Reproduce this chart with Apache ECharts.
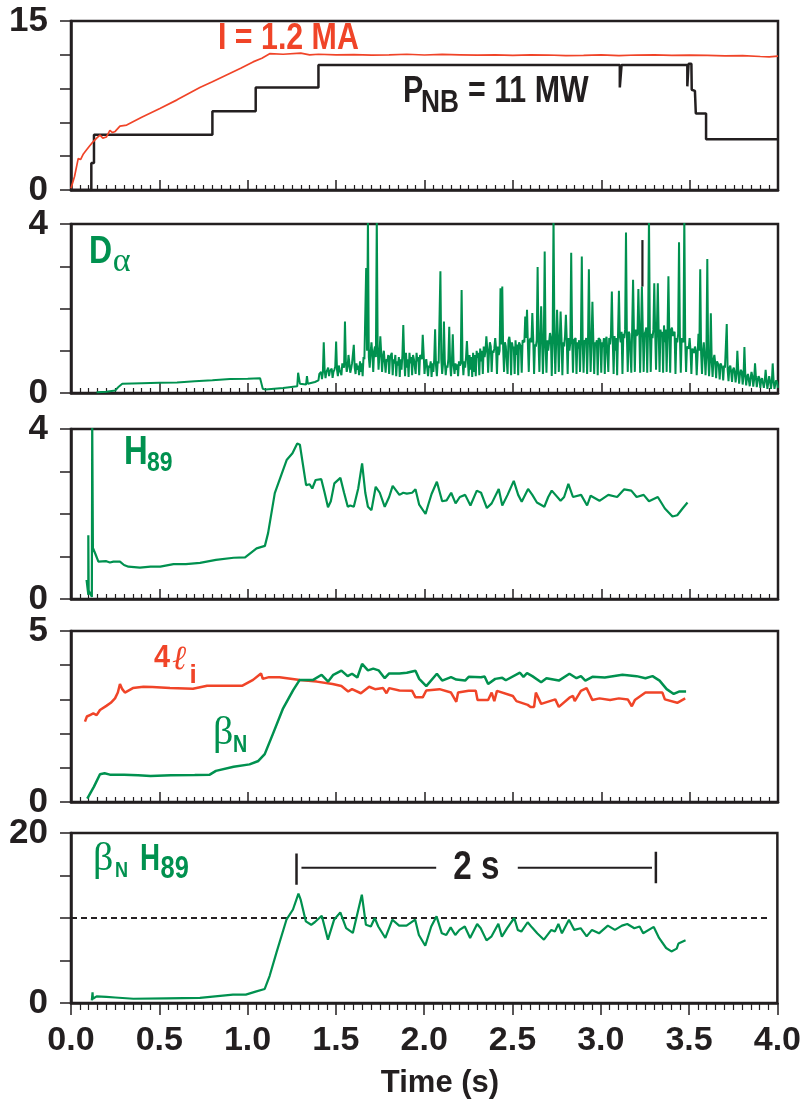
<!DOCTYPE html>
<html><head><meta charset="utf-8">
<script src="https://cdn.jsdelivr.net/npm/echarts/dist/echarts.min.js"></script>
<style>html,body{margin:0;padding:0;background:#fff}#c{width:804px;height:1103px}</style>
</head><body><div id="c"></div>
<script>
// ---------- tick labels ----------
const xTickLabels = ['0.0','0.5','1.0','1.5','2.0','2.5','3.0','3.5','4.0'];
const yLabelsP1 = ['0','15'];
const yLabelsP2 = ['0','4'];
const yLabelsP3 = ['0','4'];
const yLabelsP4 = ['0','5'];
const yLabelsP5 = ['0','20'];

// ---------- panel 1: plasma current (red) and NB power (black step) ----------
const plasmaCurrent = [[0,0.15],[0.02,1.2],[0.041,2.8],[0.054,2.7],[0.07,3.2],[0.085,3.5],[0.105,3.9],[0.126,4.3],[0.145,4.6],[0.164,4.87],[0.18,4.6],[0.2,4.7],[0.22,5.3],[0.235,5.1],[0.25,5.2],[0.277,5.67],[0.315,5.76],[0.40,6.45],[0.503,7.23],[0.6,8.0],[0.729,9.1],[0.8,9.6],[0.88,10.2],[0.96,10.8],[1.03,11.37],[1.08,11.7],[1.124,12.1],[1.2,12.05],[1.3,12.15],[1.35,12.0],[1.4,12.05],[1.5,12.0],[1.6,12.02],[1.7,11.98],[1.8,12.0],[1.9,12.05],[2.0,11.98],[2.1,12.03],[2.2,12.0],[2.3,11.97],[2.4,12.0],[2.5,11.95],[2.6,12.0],[2.7,11.98],[2.8,11.93],[2.9,11.95],[3.0,12.0],[3.1,11.92],[3.2,11.98],[3.3,12.0],[3.4,11.95],[3.5,11.98],[3.6,11.95],[3.7,11.9],[3.8,11.92],[3.9,11.85],[3.95,11.82],[4.0,11.88]];
const nbPower = [[0,0],[0.115,0],[0.115,2.4],[0.13,2.4],[0.13,4.9],[0.80,4.9],[0.80,7.0],[1.045,7.0],[1.045,9.1],[1.40,9.1],[1.40,11.1],[3.105,11.1],[3.105,9.1],[3.115,9.1],[3.115,11.1],[3.487,11.1],[3.487,9.2],[3.494,9.2],[3.494,11.2],[3.51,11.2],[3.512,8.9],[3.53,8.8],[3.535,6.8],[3.593,6.8],[3.593,4.5],[4.0,4.5]];

// ---------- panel 2: D-alpha ----------
const dAlphaEarly = [[0.145,0.02],[0.2,0.03],[0.25,0.06],[0.27,0.15],[0.29,0.22],[0.4,0.23],[0.5,0.24],[0.6,0.25],[0.7,0.28],[0.8,0.30],[0.9,0.33],[1.0,0.34],[1.07,0.35],[1.075,0.38],[1.085,0.10],[1.10,0.08],[1.2,0.12],[1.28,0.16],[1.285,0.48],[1.295,0.22],[1.33,0.20],[1.335,0.40],[1.34,0.22],[1.38,0.26],[1.39,0.30]];
const dAlphaStart = 1.40, dAlphaStep = 0.01;   // sampled trace 1.40 s .. 4.00 s
const dAlphaSamples = [
0.30,0.42,0.33,1.20,0.35,0.55,0.40,0.50,0.36,0.55,
1.22,0.40,0.55,0.42,0.65,1.69,0.50,0.90,0.48,0.70,
1.14,0.45,0.55,0.42,0.50,0.40,0.80,2.96,4.20,0.60,
1.20,0.50,1.10,4.20,0.55,1.34,0.50,1.00,0.48,0.75,
0.45,0.87,0.42,0.70,0.40,0.65,0.38,0.55,1.61,0.40,
0.60,0.38,0.70,0.42,0.80,0.45,0.75,0.42,0.90,1.38,
0.45,0.80,0.40,0.60,0.38,0.50,1.51,0.40,0.70,2.88,
0.45,1.69,0.42,0.60,1.57,0.40,1.39,0.45,0.55,0.40,
0.65,2.44,0.42,0.60,1.23,0.40,0.55,0.38,0.50,0.40,
0.83,0.42,0.75,0.45,0.85,1.34,0.48,1.20,0.50,0.95,
1.30,0.45,0.90,2.48,2.52,0.50,1.10,0.45,1.33,0.42,
1.05,0.45,0.90,0.42,1.20,0.48,1.25,1.81,1.97,0.50,
1.30,1.89,0.45,1.10,2.98,0.50,2.05,0.45,3.35,0.48,
1.00,1.42,0.40,4.20,0.45,1.97,0.50,1.93,0.42,1.10,
1.85,0.45,1.00,3.32,0.48,1.25,0.45,1.05,0.50,3.23,
0.48,1.20,0.45,2.93,0.50,2.16,0.45,1.15,0.42,1.26,
0.48,1.10,0.45,1.33,0.50,1.15,2.40,0.45,1.00,0.42,
2.42,1.20,0.45,1.30,3.80,0.50,1.40,0.48,2.68,0.50,
1.35,2.46,0.48,2.52,0.50,1.45,0.48,4.20,0.50,1.30,
2.60,0.55,2.60,0.50,1.35,0.48,1.20,0.50,2.76,0.48,
1.55,1.40,0.45,1.20,3.57,0.48,1.30,4.20,0.50,1.10,
1.30,0.45,1.00,1.10,0.42,1.40,2.93,0.45,1.20,0.42,
3.17,0.40,1.89,0.38,0.90,0.35,0.75,0.32,0.70,0.30,
0.60,1.63,0.28,0.65,0.26,0.60,0.25,1.00,0.22,0.55,
0.20,1.09,0.18,0.45,0.16,0.50,0.15,0.70,0.14,0.40,
0.12,0.35,0.12,0.55,0.10,0.40,0.10,0.70,0.10,0.30,
0.12];
// in-between readings of the dense ELM band (1.405 s .. 3.995 s)
const dAlphaMid = [
0.45,0.50,0.48,0.55,0.50,0.60,0.52,0.58,0.50,0.62,
0.55,0.65,0.58,0.70,0.60,0.75,0.62,0.70,0.58,0.68,
0.60,0.70,0.65,0.75,0.70,0.85,0.80,1.00,0.85,0.95,
0.90,1.00,0.85,1.10,0.90,0.95,0.85,1.00,0.80,0.90,
0.85,0.95,0.80,0.90,0.75,0.85,0.80,0.90,0.85,0.95,
0.80,0.95,0.85,0.90,0.80,0.95,0.85,0.90,0.80,0.95,
0.70,0.80,0.65,0.75,0.70,0.80,0.65,0.75,0.70,0.80,
0.70,0.75,0.65,0.80,0.70,0.75,0.65,0.70,0.68,0.75,
0.70,0.80,0.75,0.85,0.80,0.90,0.85,0.95,0.90,1.00,
0.95,1.05,1.00,1.10,1.00,1.05,0.95,1.10,1.00,1.05,
1.05,1.10,1.00,1.15,1.05,1.20,1.10,1.25,1.15,1.20,
1.10,1.25,1.15,1.20,1.10,1.25,1.20,1.30,1.15,1.25,
1.20,1.30,1.15,1.25,1.20,1.30,1.25,1.20,1.15,1.25,
1.20,1.30,1.25,1.35,1.20,1.30,1.25,1.30,1.20,1.35,
1.25,1.30,1.20,1.35,1.25,1.30,1.20,1.25,1.30,1.20,
1.25,1.30,1.20,1.35,1.25,1.30,1.20,1.25,1.30,1.25,
1.20,1.30,1.25,1.35,1.30,1.40,1.25,1.35,1.30,1.40,
1.35,1.45,1.40,1.50,1.35,1.45,1.40,1.55,1.45,1.50,
1.40,1.55,1.45,1.50,1.40,1.55,1.50,1.45,1.40,1.50,
1.45,1.55,1.40,1.50,1.45,1.60,1.50,1.45,1.40,1.50,
1.35,1.45,1.30,1.40,1.35,1.30,1.20,1.25,1.10,1.05,
1.00,1.05,0.95,1.00,0.90,1.00,0.95,1.00,0.90,0.95,
0.85,0.80,0.75,0.80,0.70,0.75,0.65,0.70,0.60,0.65,
0.60,0.55,0.60,0.50,0.55,0.50,0.45,0.55,0.45,0.50,
0.40,0.45,0.38,0.42,0.35,0.40,0.32,0.38,0.30,0.35,
0.30,0.32,0.28,0.30,0.25,0.28,0.25,0.30,0.22,0.25];
const dAlphaBlackMark = [[3.233,2.52],[3.233,3.62]];

// ---------- panel 3: H89 ----------
const h89 = [[0.088,0.45],[0.098,0.1],[0.098,1.5],[0.1,0.2],[0.118,0.05],[0.12,4.2],[0.124,1.2],[0.137,1.07],[0.155,0.88],[0.2,0.89],[0.22,0.86],[0.24,0.88],[0.277,0.88],[0.3,0.8],[0.325,0.76],[0.39,0.74],[0.45,0.76],[0.505,0.76],[0.58,0.82],[0.65,0.82],[0.73,0.85],[0.82,0.92],[0.92,0.97],[0.985,0.98],[1.05,1.19],[1.097,1.25],[1.115,1.55],[1.153,2.49],[1.19,2.92],[1.22,3.27],[1.253,3.43],[1.28,3.66],[1.295,3.63],[1.33,2.68],[1.35,2.7],[1.365,2.6],[1.384,2.8],[1.416,2.82],[1.435,2.5],[1.454,2.16],[1.47,2.3],[1.49,2.72],[1.524,2.85],[1.545,2.5],[1.566,2.17],[1.58,2.2],[1.6,2.17],[1.625,2.6],[1.647,3.19],[1.665,2.5],[1.68,2.17],[1.7,2.09],[1.724,2.64],[1.747,2.5],[1.775,2.17],[1.8,2.4],[1.82,2.66],[1.858,2.45],[1.88,2.5],[1.9,2.48],[1.93,2.5],[1.949,2.58],[1.97,2.22],[2.006,2.0],[2.02,2.2],[2.04,2.47],[2.07,2.76],[2.1,2.3],[2.125,2.32],[2.151,2.5],[2.176,2.25],[2.2,2.4],[2.23,2.45],[2.26,2.2],[2.296,2.55],[2.32,2.5],[2.353,2.14],[2.38,2.25],[2.42,2.59],[2.44,2.2],[2.47,2.45],[2.505,2.78],[2.53,2.45],[2.55,2.29],[2.586,2.59],[2.61,2.45],[2.636,2.27],[2.678,2.17],[2.7,2.4],[2.72,2.55],[2.77,2.31],[2.79,2.4],[2.814,2.71],[2.84,2.4],[2.886,2.45],[2.92,2.2],[2.94,2.43],[2.99,2.31],[3.04,2.45],[3.09,2.4],[3.13,2.58],[3.17,2.55],[3.2,2.4],[3.24,2.45],[3.27,2.3],[3.32,2.4],[3.36,2.13],[3.403,1.94],[3.43,1.97],[3.46,2.13],[3.488,2.27]];

// ---------- panel 4: 4*li (red) and betaN (green) ----------
const fourLi = [[0.079,2.35],[0.09,2.5],[0.11,2.55],[0.126,2.59],[0.145,2.54],[0.164,2.69],[0.2,2.81],[0.225,2.9],[0.249,3.03],[0.265,3.2],[0.277,3.45],[0.29,3.3],[0.305,3.2],[0.35,3.33],[0.41,3.37],[0.46,3.36],[0.56,3.33],[0.69,3.31],[0.77,3.4],[0.97,3.4],[1.03,3.57],[1.075,3.76],[1.085,3.6],[1.12,3.65],[1.18,3.65],[1.295,3.57],[1.39,3.52],[1.48,3.45],[1.53,3.39],[1.568,3.23],[1.59,3.3],[1.64,3.18],[1.687,3.37],[1.72,3.3],[1.766,3.33],[1.785,3.18],[1.8,3.33],[1.858,3.26],[1.93,3.25],[1.949,3.06],[1.99,3.06],[2.01,3.26],[2.085,3.3],[2.15,3.2],[2.18,2.93],[2.19,3.2],[2.25,3.25],[2.29,3.25],[2.30,2.98],[2.36,2.98],[2.38,3.2],[2.395,2.95],[2.41,3.25],[2.50,3.1],[2.52,2.95],[2.584,2.84],[2.60,2.78],[2.62,2.78],[2.63,3.2],[2.66,2.87],[2.74,3.0],[2.76,2.78],[2.82,3.05],[2.84,3.1],[2.85,2.95],[2.885,3.25],[2.917,3.33],[2.95,2.98],[2.99,3.03],[3.05,2.98],[3.1,3.03],[3.15,3.0],[3.173,2.8],[3.19,2.98],[3.25,3.2],[3.346,3.2],[3.36,3.0],[3.43,2.9],[3.475,3.03]];
const betaN = [[0.092,0.1],[0.13,0.45],[0.164,0.81],[0.19,0.84],[0.22,0.8],[0.3,0.8],[0.38,0.78],[0.45,0.76],[0.565,0.78],[0.7,0.79],[0.785,0.8],[0.82,0.91],[0.92,1.03],[1.01,1.1],[1.06,1.2],[1.096,1.4],[1.143,2.0],[1.2,2.74],[1.257,3.27],[1.294,3.57],[1.37,3.57],[1.418,3.72],[1.455,3.52],[1.484,3.72],[1.53,3.84],[1.565,3.68],[1.59,3.75],[1.62,3.64],[1.647,4.04],[1.68,3.85],[1.71,3.9],[1.74,3.85],[1.775,3.62],[1.8,3.76],[1.858,3.76],[1.90,3.78],[1.949,3.84],[1.97,3.6],[2.01,3.39],[2.07,3.75],[2.1,3.55],[2.15,3.65],[2.18,3.58],[2.23,3.55],[2.25,3.66],[2.32,3.65],[2.34,3.67],[2.36,3.45],[2.4,3.6],[2.44,3.63],[2.46,3.56],[2.54,3.78],[2.56,3.66],[2.58,3.77],[2.61,3.68],[2.66,3.5],[2.69,3.62],[2.76,3.55],[2.82,3.75],[2.86,3.62],[2.885,3.68],[2.91,3.55],[2.95,3.66],[3.02,3.64],[3.12,3.72],[3.2,3.68],[3.25,3.62],[3.29,3.68],[3.33,3.55],[3.37,3.3],[3.41,3.16],[3.44,3.23],[3.48,3.23]];

// ---------- panel 5: betaN*H89 ----------
const betaNH89 = [[0.118,0.3],[0.122,1.25],[0.124,0.5],[0.145,0.78],[0.2,0.72],[0.25,0.65],[0.353,0.5],[0.54,0.55],[0.73,0.6],[0.917,0.98],[0.99,0.98],[1.05,1.37],[1.097,1.65],[1.125,3.2],[1.163,5.9],[1.22,9.8],[1.257,11.0],[1.288,12.86],[1.30,12.2],[1.33,9.6],[1.36,9.2],[1.38,9.5],[1.42,10.27],[1.455,7.45],[1.49,9.8],[1.525,10.66],[1.558,8.8],[1.596,8.24],[1.647,12.74],[1.67,9.2],[1.698,9.0],[1.72,10.0],[1.74,9.0],[1.78,7.65],[1.82,9.8],[1.858,9.1],[1.9,9.1],[1.949,9.8],[1.97,8.0],[2.006,6.74],[2.04,9.0],[2.07,10.2],[2.1,8.2],[2.125,8.0],[2.15,8.9],[2.176,8.0],[2.2,8.6],[2.23,9.0],[2.26,7.65],[2.3,9.3],[2.32,8.8],[2.353,7.37],[2.38,7.8],[2.42,9.33],[2.44,7.8],[2.47,8.8],[2.51,10.0],[2.53,8.6],[2.55,8.4],[2.586,9.5],[2.61,8.9],[2.64,8.2],[2.678,7.45],[2.72,8.6],[2.74,8.4],[2.76,9.3],[2.78,8.2],[2.82,9.8],[2.85,8.6],[2.886,8.8],[2.92,7.84],[2.95,8.6],[2.99,8.2],[3.04,9.1],[3.08,8.6],[3.12,9.1],[3.15,9.3],[3.19,8.8],[3.22,9.0],[3.24,8.2],[3.3,8.95],[3.33,7.65],[3.37,6.47],[3.4,6.07],[3.43,6.4],[3.44,7.0],[3.48,7.37]];
const referenceLevel = [[0,10],[3.96,10]];
const bracketLeftBar = [[1.277,17.6],[1.277,13.9]];
const bracketLeftLine = [[1.305,15.9],[2.068,15.9]];
const bracketRightLine = [[2.53,15.9],[3.29,15.9]];
const bracketRightBar = [[3.312,17.8],[3.312,14.1]];

// ---------- build ----------
const RED = '#f04428', GREEN = '#00914f', BLACK = '#231f20';
const SANS = "'Liberation Sans',Arial,sans-serif";
const SERIF = "'Liberation Serif','DejaVu Serif',serif";

const dAlpha = dAlphaEarly.slice();
dAlphaSamples.forEach((v, i) => {
  const t = dAlphaStart + i * dAlphaStep;
  dAlpha.push([+t.toFixed(3), v]);
  if (i < dAlphaMid.length) dAlpha.push([+(t + dAlphaStep / 2).toFixed(3), dAlphaMid[i]]);
});

const gridTops = [21, 224, 429, 631, 833];
const gridHeights = [169, 169, 170, 171, 170];
const yCfg = [[0,15,3,yLabelsP1],[0,4,1,yLabelsP2],[0,4,1,yLabelsP3],[0,5,1,yLabelsP4],[0,20,5,yLabelsP5]];

const grid = gridTops.map((t, i) => ({left: 71, width: 707, top: t, height: gridHeights[i], show: true, borderColor: BLACK, borderWidth: 2.5, backgroundColor: 'transparent'}));

const xAxis = gridTops.map((t, i) => {
  const last = i === 4;
  return {
    type: 'value', gridIndex: i, min: 0, max: 4, interval: 0.5,
    axisLine: {show: true, onZero: false, lineStyle: {color: BLACK, width: 2.5}},
    axisTick: {show: true, inside: !last, length: last ? 12 : 10, lineStyle: {color: BLACK, width: 1.5}},
    minorTick: {show: true, splitNumber: 10, length: last ? 7 : 5, lineStyle: {color: BLACK, width: 1.2}},
    splitLine: {show: false},
    axisLabel: {show: last, margin: 21, color: BLACK, fontFamily: SANS, fontWeight: 'bold', fontSize: 34,
      formatter: v => xTickLabels[Math.round(v / 0.5)]}
  };
});

const yAxis = yCfg.map((c, i) => ({
  type: 'value', gridIndex: i, min: c[0], max: c[1], interval: c[2],
  axisLine: {show: true, lineStyle: {color: BLACK, width: 2.5}},
  axisTick: {show: true, inside: false, length: 11, lineStyle: {color: BLACK, width: 1.5}},
  splitLine: {show: false},
  axisLabel: {show: true, margin: 23, color: BLACK, fontFamily: SANS, fontWeight: 'bold', fontSize: 35,
    formatter: v => v === c[0] ? c[3][0] : (v === c[1] ? c[3][1] : '')}
}));

function line(data, xi, color, width, extra) {
  return Object.assign({type: 'line', xAxisIndex: xi, yAxisIndex: xi, data: data, showSymbol: false, symbol: 'none',
    lineStyle: {color: color, width: width}, clip: true, animation: false, silent: true}, extra || {});
}

const series = [
  line(nbPower, 0, BLACK, 2.5),
  line(plasmaCurrent, 0, RED, 1.7),
  line(dAlpha, 1, GREEN, 2.0),
  line(dAlphaBlackMark, 1, BLACK, 2.2),
  line(h89, 2, GREEN, 2.2),
  line(fourLi, 3, RED, 2.5),
  line(betaN, 3, GREEN, 2.5),
  line(referenceLevel, 4, BLACK, 2, {lineStyle: {color: BLACK, width: 2, type: [6, 4]}}),
  line(betaNH89, 4, GREEN, 2.2),
  line(bracketLeftBar, 4, BLACK, 2.5),
  line(bracketLeftLine, 4, BLACK, 2),
  line(bracketRightLine, 4, BLACK, 2),
  line(bracketRightBar, 4, BLACK, 2.5)
];

function txt(s, x, y, font, color, align, sx) {
  return {type: 'text', x: x, y: y, scaleX: sx == null ? 0.82 : sx, silent: true, z: 100,
    style: {text: s, font: font, fill: color, align: align || 'left', verticalAlign: 'middle'}};
}
const graphic = [
  txt('I = 1.2 MA', 218, 39, 'bold 37px ' + SANS, RED),
  txt('P', 403, 92, 'bold 37px ' + SANS, BLACK),
  txt('NB', 421, 103, 'bold 32px ' + SANS, BLACK),
  txt('= 11 MW', 468, 92, 'bold 37px ' + SANS, BLACK),
  txt('D', 89, 252, 'bold 39px ' + SANS, GREEN),
  txt('\u03b1', 112.7, 262.3, '34px ' + SERIF, GREEN, 'left', 1),
  txt('H', 124, 452.5, 'bold 40px ' + SANS, GREEN),
  txt('89', 147, 463.5, 'bold 28px ' + SANS, GREEN),
  txt('4', 154, 658.5, 'bold 32px ' + SANS, RED, 'left', 0.9),
  txt('\u2113', 172, 660, 'italic 34px ' + SERIF, RED, 'left', 1),
  txt('i', 189.5, 676, 'bold 26px ' + SANS, RED, 'left', 1),
  txt('\u03b2', 213, 733.8, '40px ' + SERIF, GREEN, 'left', 1),
  txt('N', 233, 745.4, 'bold 24px ' + SANS, GREEN),
  txt('\u03b2', 93, 859.8, '40px ' + SERIF, GREEN, 'left', 1),
  txt('N', 115, 870.5, 'bold 22px ' + SANS, GREEN),
  txt('H', 140, 859.5, 'bold 37px ' + SANS, GREEN, 'left', 0.75),
  txt('89', 160.5, 869, 'bold 31px ' + SANS, GREEN),
  txt('2 s', 476.3, 867.5, 'bold 40px ' + SANS, BLACK, 'center', 0.83),
  txt('Time (s)', 440, 1083, 'bold 31px ' + SANS, BLACK, 'center', 1)
];

const chart = echarts.init(document.getElementById('c'), null, {renderer: 'canvas'});
chart.setOption({animation: false, backgroundColor: '#ffffff', grid, xAxis, yAxis, series, graphic});
</script></body></html>
